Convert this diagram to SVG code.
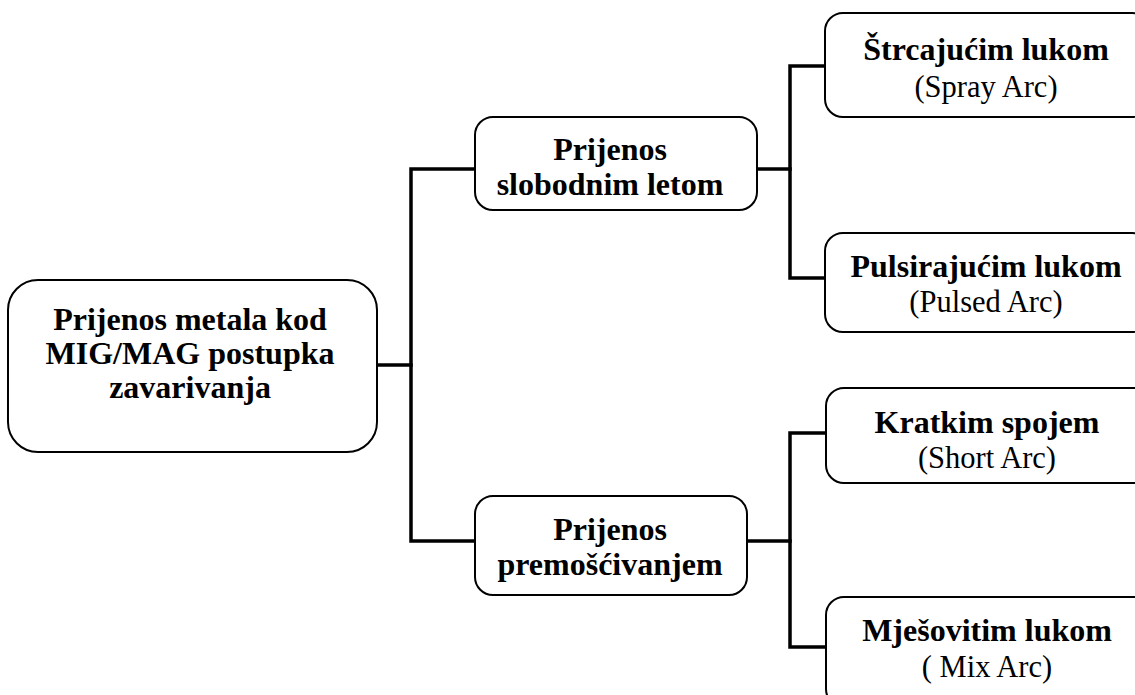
<svg xmlns="http://www.w3.org/2000/svg" width="1135" height="695" viewBox="0 0 1135 695">
<style>
.box{fill:#fff;stroke:#000;stroke-width:2}
.con{fill:none;stroke:#000;stroke-width:3.5;stroke-linejoin:miter;stroke-linecap:square}
.b{font-family:"Liberation Serif","Times New Roman",serif;font-weight:bold;font-size:32px;text-anchor:middle;fill:#000}
.r{font-family:"Liberation Serif","Times New Roman",serif;font-size:30.5px;text-anchor:middle;fill:#000}
</style>
<rect width="1135" height="695" fill="#fff"/>
<g id="connectors">
<path class="con" d="M377 365 H411"/>
<path class="con" d="M475 169 H411 V541 H475"/>
<path class="con" d="M757 169 H790"/>
<path class="con" d="M825 66 H790 V278 H825"/>
<path class="con" d="M747 541 H790"/>
<path class="con" d="M826 433 H790 V647 H826"/>
</g>
<g id="root">
<rect class="box" x="8" y="280" width="369" height="172" rx="30"/>
<text class="b" x="190" y="330">Prijenos metala kod</text>
<text class="b" x="190" y="364">MIG/MAG postupka</text>
<text class="b" x="190" y="398">zavarivanja</text>
</g>
<g id="slobodni">
<rect class="box" x="475" y="117" width="282" height="93" rx="18"/>
<text class="b" x="610" y="160">Prijenos</text>
<text class="b" x="610" y="195">slobodnim letom</text>
</g>
<g id="premoscivanje">
<rect class="box" x="475" y="496" width="272" height="99" rx="18"/>
<text class="b" x="610" y="540">Prijenos</text>
<text class="b" x="610" y="575">premošćivanjem</text>
</g>
<g id="spray">
<rect class="box" x="825" y="13" width="325" height="104" rx="18"/>
<text class="b" x="986" y="60">Štrcajućim lukom</text>
<text class="r" x="986" y="97">(Spray Arc)</text>
</g>
<g id="pulsed">
<rect class="box" x="825" y="233" width="325" height="99" rx="18"/>
<text class="b" x="986" y="277">Pulsirajućim lukom</text>
<text class="r" x="986" y="312">(Pulsed Arc)</text>
</g>
<g id="short">
<rect class="box" x="826" y="388" width="325" height="95" rx="18"/>
<text class="b" x="987" y="433">Kratkim spojem</text>
<text class="r" x="987" y="468">(Short Arc)</text>
</g>
<g id="mix">
<rect class="box" x="826" y="597" width="325" height="110" rx="18"/>
<text class="b" x="987" y="641">Mješovitim lukom</text>
<text class="r" x="987" y="677">( Mix Arc)</text>
</g>
</svg>
